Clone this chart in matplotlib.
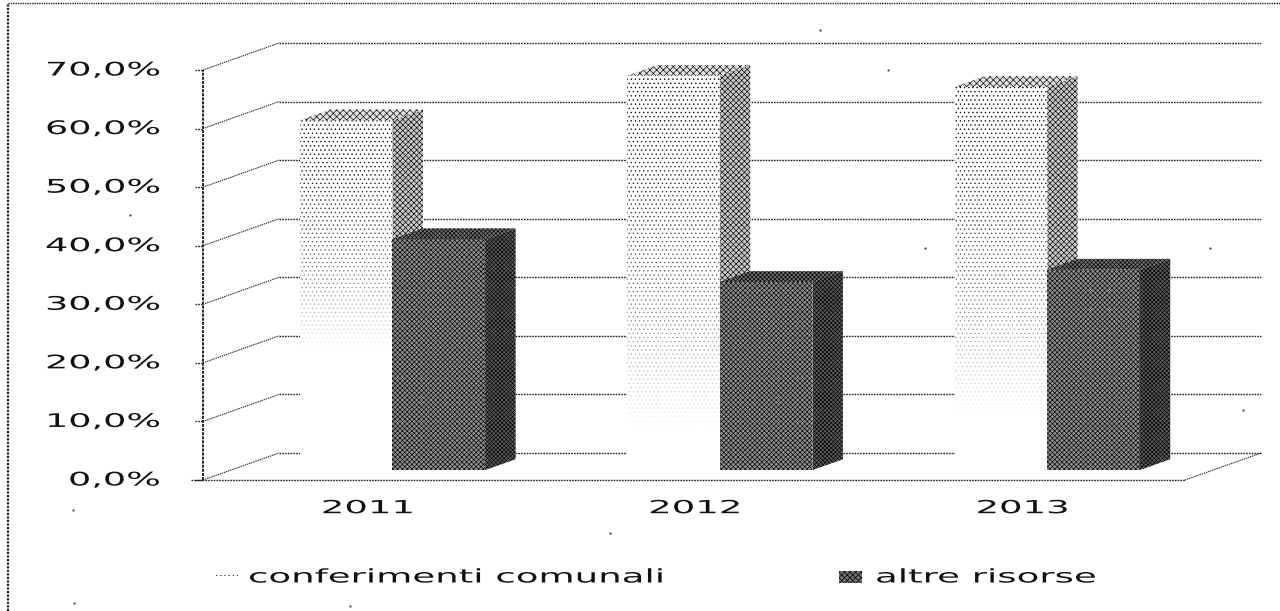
import matplotlib
matplotlib.use('Agg')
import matplotlib.pyplot as plt
import numpy as np
from matplotlib.lines import Line2D
from matplotlib.patches import Polygon, Rectangle
from matplotlib.patheffects import AbstractPathEffect
from matplotlib.transforms import Affine2D

#data
years = ['2011', '2012', '2013']
conferimenti = [59.7, 67.3, 65.4]
altre_risorse = [39.4, 32.1, 34.2]
fade_end = [20, 7, 9] #where the light dither dies out
y_ticks = [0, 10, 20, 30, 40, 50, 60, 70]
y_labels = ['0,0%', '10,0%', '20,0%', '30,0%', '40,0%', '50,0%', '60,0%', '70,0%']
legend_labels = ['conferimenti comunali', 'altre risorse']

#layout, pixels of the 1280x611 picture
W, H = 1280, 611
X0, X1, Y0, Y70 = 203, 1185, 480, 70
px_x = 3 / (X1 - X0)
px_y = 70 / (Y0 - Y70)
DEPTH_X = 76 * px_x
DEPTH_Y = 27 * px_y
BAR_W = 0.283
SLOT = 0.21

#stray specks of the scan
specks_x = [820, 888, 130, 925, 1210, 1243, 73, 74, 610, 350]
specks_y = [30, 70, 215, 248, 248, 410, 510, 603, 533, 606]


class Stretch(AbstractPathEffect):
    #the original text is about twice as wide as any installed font
    def __init__(self, sx=1.95):
        super().__init__()
        self.sx = sx

    def draw_path(self, renderer, gc, tpath, affine, rgbFace=None):
        x0 = affine.get_matrix()[0, 2]
        wide = affine + Affine2D().translate(-x0, 0).scale(self.sx, 1).translate(x0, 0)
        renderer.draw_path(gc, tpath, wide, rgbFace)


def dep(x, v, f):
    return (x + f * DEPTH_X, v + f * DEPTH_Y)


def face(pts, hatch, color, bg='white', z=3):
    ax.add_patch(Polygon(pts, closed=True, facecolor=bg, edgecolor=color, hatch=hatch,
                         linewidth=0, zorder=z, clip_on=False))


def draw_bar(x, v, front, side, top, bg_front, bg_side, bg_top, z):
    a, b = 0.37, 0.77
    x2 = x + BAR_W
    face([dep(x, 0, a), dep(x2, 0, a), dep(x2, v, a), dep(x, v, a)], front, 'black', bg_front, z)
    face([dep(x2, 0, a), dep(x2, 0, b), dep(x2, v, b), dep(x2, v, a)], side, 'black', bg_side, z)
    face([dep(x, v, a), dep(x2, v, a), dep(x2, v, b), dep(x, v, b)], top, 'black', bg_top, z)


plt.rcParams['hatch.linewidth'] = 0.45
fig = plt.figure(figsize=(W / 100, H / 100), dpi=100)
ax = fig.add_axes([X0 / W, 1 - Y0 / H, (X1 - X0) / W, (Y0 - Y70) / H])
ax.set_xlim(0, 3)
ax.set_ylim(0, 70)
ax.axis('off')

grid = dict(color='#222222', lw=1.0, ls=(0, (1.2, 0.8)), clip_on=False, zorder=1)

#back wall and side wall of the 3d box
for v in y_ticks:
    ax.plot([DEPTH_X, 3 + DEPTH_X], [v + DEPTH_Y, v + DEPTH_Y], **grid)
    ax.plot([0, DEPTH_X], [v, v + DEPTH_Y], **{**grid, 'lw': 0.8})
    ax.plot([-8 * px_x, 0], [v, v], **grid)
ax.plot([0, 0], [0, 70], color='#222222', lw=1.4, ls=(0, (1.5, 0.6)), clip_on=False, zorder=1)
ax.plot([-12 * px_x, 3], [0, 0], zorder=2, **{k: w for k, w in grid.items() if k != 'zorder'})
ax.plot([3, 3 + DEPTH_X], [0, DEPTH_Y], **{**grid, 'lw': 0.8})

for i, year in enumerate(years):
    x_light = i + SLOT
    x_dark = x_light + BAR_W

    draw_bar(x_light, conferimenti[i], '....', 'xxxxxx', 'xxxxx', 'white', '#c8c8c8', '#e0e0e0', 3)

    #white veil so the dots get sparser towards the floor
    a = 0.37
    left, base = dep(x_light, 0, a)
    right, top = dep(x_light + BAR_W, conferimenti[i], a)
    stop = fade_end[i] + a * DEPTH_Y
    veil = np.zeros((64, 1, 4))
    veil[..., :3] = 1
    veil[:, 0, 3] = np.linspace(0, 1, 64) ** 1.6
    ax.imshow(veil, extent=[left, right, stop, top], aspect='auto', zorder=3.5, interpolation='bilinear')
    ax.add_patch(Rectangle((left, base), right - left, stop - base, facecolor='white',
                           edgecolor='none', zorder=3.5))

    draw_bar(x_dark, altre_risorse[i], 'xxxxxxx', 'xxxxxxxx', 'xxxxxxxx',
             '#8e8e8e', '#5c5c5c', '#707070', 4)

    ax.text(i + 0.36, -(27 * px_y) - 0.2, year, fontsize=13, va='center', ha='left', color='#111111',
            path_effects=[Stretch(2.05)], clip_on=False)

ax.set_xlim(0, 3)
ax.set_ylim(0, 70)

for v, lab in zip(y_ticks, y_labels):
    w = {4: 92, 5: 115}[len(lab)]
    ax.text((160 - w - X0) * px_x, v, lab, fontsize=13.5, va='center', ha='left', color='#111111',
            path_effects=[Stretch(1.95)], clip_on=False)

#legend, by hand because of the stretched text
fig.text(248 / W, 1 - 577 / H, legend_labels[0], fontsize=13.5, va='center', ha='left', color='#111111',
         path_effects=[Stretch(1.98)])
fig.text(875 / W, 1 - 577 / H, legend_labels[1], fontsize=13.5, va='center', ha='left', color='#111111',
         path_effects=[Stretch(1.98)])
fig.add_artist(Rectangle((215 / W, 1 - 578 / H), 23 / W, 3 / H, transform=fig.transFigure,
                         facecolor='white', edgecolor='black', hatch='....', linewidth=0))
fig.add_artist(Rectangle((839 / W, 1 - 583 / H), 23 / W, 12 / H, transform=fig.transFigure,
                         facecolor='#707070', edgecolor='black', hatch='xxxxxx', linewidth=0))

#dotted border of the scan
fig.add_artist(Line2D([8 / W, 8 / W], [0, 1 - 3 / H], transform=fig.transFigure, color='#222222',
                      lw=1.6, ls=(0, (1, 0.6))))
fig.add_artist(Line2D([8 / W, 1], [1 - 3 / H, 1 - 3 / H], transform=fig.transFigure, color='#222222',
                      lw=1.0, ls=(0, (1, 0.7))))
fig.add_artist(Line2D(np.array(specks_x) / W, 1 - np.array(specks_y) / H, transform=fig.transFigure,
                      color='#222222', ls='none', marker='s', ms=1.3, mew=0))

plt.savefig('out.png', dpi=100)
